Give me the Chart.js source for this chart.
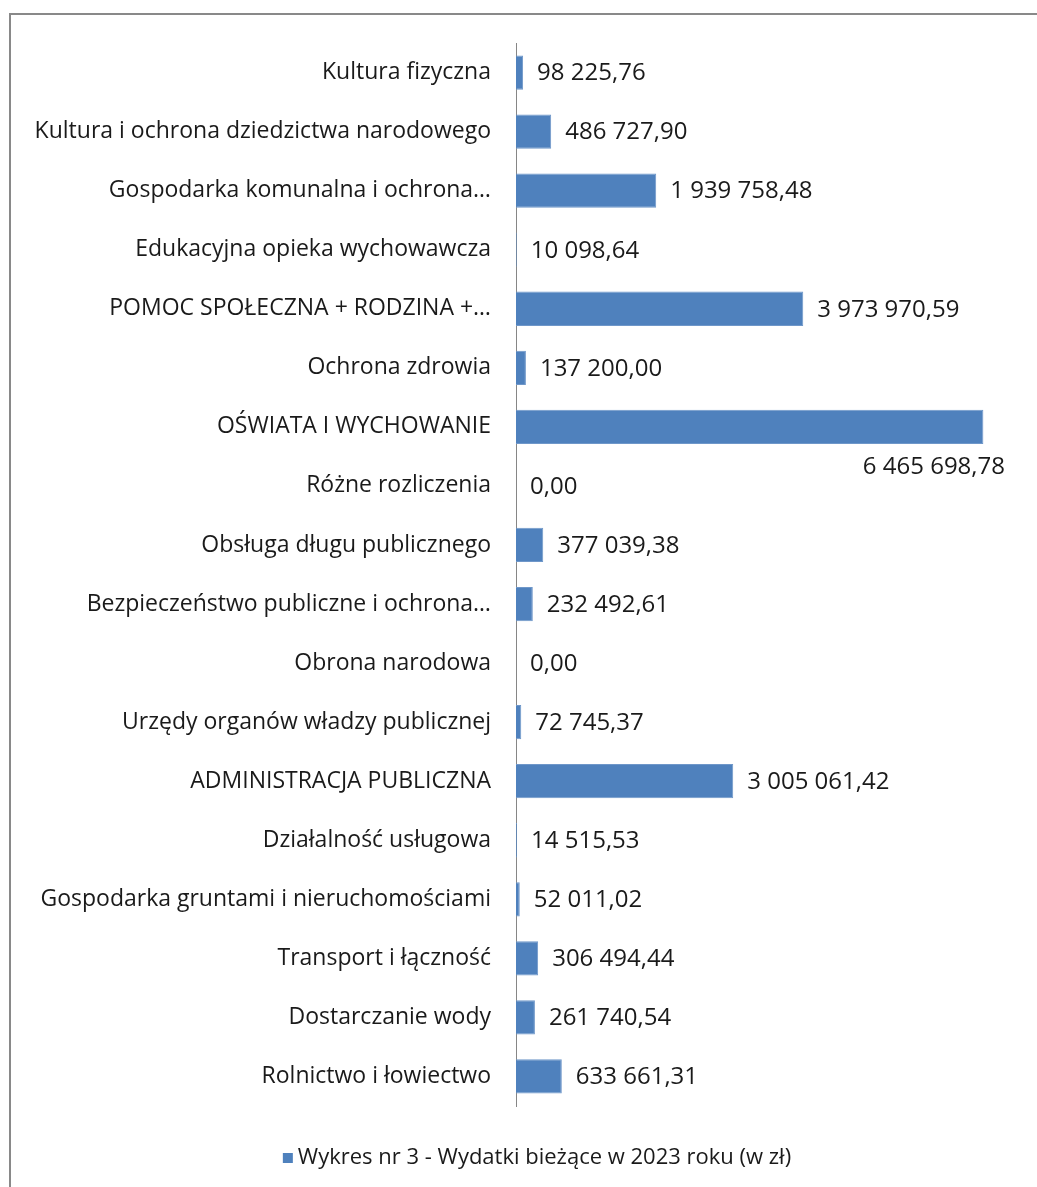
<!DOCTYPE html>
<html>
<head>
<meta charset="utf-8">
<script src="https://cdn.jsdelivr.net/npm/chart.js@4.4.0/dist/chart.umd.min.js"></script>
<style>
  html, body { margin: 0; padding: 0; background: #ffffff; }
  #wrap { position: relative; width: 1037px; height: 1187px; }
  canvas { display: block; }
</style>
</head>
<body>
<div id="wrap"><canvas id="c" width="1037" height="1187"></canvas></div>
<script>
const categories = [
  "Kultura fizyczna",
  "Kultura i ochrona dziedzictwa narodowego",
  "Gospodarka komunalna i ochrona…",
  "Edukacyjna opieka wychowawcza",
  "POMOC SPOŁECZNA + RODZINA +…",
  "Ochrona zdrowia",
  "OŚWIATA I WYCHOWANIE",
  "Różne rozliczenia",
  "Obsługa długu publicznego",
  "Bezpieczeństwo publiczne i ochrona…",
  "Obrona narodowa",
  "Urzędy organów władzy publicznej",
  "ADMINISTRACJA PUBLICZNA",
  "Działalność usługowa",
  "Gospodarka gruntami i nieruchomościami",
  "Transport i łączność",
  "Dostarczanie wody",
  "Rolnictwo i łowiectwo"
];
const values = [
  98225.76,
  486727.90,
  1939758.48,
  10098.64,
  3973970.59,
  137200.00,
  6465698.78,
  0.00,
  377039.38,
  232492.61,
  0.00,
  72745.37,
  3005061.42,
  14515.53,
  52011.02,
  306494.44,
  261740.54,
  633661.31
];
const seriesLabel = "Wykres nr 3 - Wydatki bieżące w 2023 roku (w zł)";
const axisMin = 0;
const axisMax = 7000000;

const FONT = "'Open Sans', Lato, sans-serif";
const BAR_COLOR = "#4F81BD";
const TEXT_COLOR = "#1a1a1a";

function fmtPL(v) {
  const parts = v.toFixed(2).split(".");
  const intPart = parts[0].replace(/\B(?=(\d{3})+(?!\d))/g, " ");
  return intPart + "," + parts[1];
}

const framePlugin = {
  id: "frame",
  beforeDraw(chart) {
    const ctx = chart.ctx;
    ctx.save();
    ctx.fillStyle = "#ffffff";
    ctx.fillRect(0, 0, chart.width, chart.height);
    ctx.strokeStyle = "#898989";
    ctx.lineWidth = 2;
    ctx.beginPath();
    ctx.moveTo(10, chart.height + 5);
    ctx.lineTo(10, 14);
    ctx.lineTo(chart.width + 5, 14);
    ctx.stroke();
    ctx.restore();
  }
};

const valueLabels = {
  id: "valueLabels",
  afterDatasetsDraw(chart) {
    const ctx = chart.ctx;
    const meta = chart.getDatasetMeta(0);
    ctx.save();
    ctx.font = "24px " + FONT;
    ctx.fillStyle = TEXT_COLOR;
    ctx.textBaseline = "middle";
    meta.data.forEach((bar, i) => {
      const txt = fmtPL(values[i]);
      const w = ctx.measureText(txt).width;
      let x = bar.x + 14;
      if (x + w > chart.width - 30) {
        ctx.textAlign = "right";
        ctx.fillText(txt, chart.width - 32, bar.y + 40);
      } else {
        ctx.textAlign = "left";
        ctx.fillText(txt, x, bar.y + 1);
      }
    });
    ctx.restore();
  }
};

const customLegend = {
  id: "customLegend",
  afterDraw(chart) {
    const ctx = chart.ctx;
    ctx.save();
    ctx.font = "22px " + FONT;
    const label = chart.data.datasets[0].label;
    const tw = ctx.measureText(label).width;
    const box = 10, gap = 5;
    const total = box + gap + tw;
    const cx = 537;
    const y = 1158;
    const x0 = cx - total / 2;
    ctx.fillStyle = chart.data.datasets[0].backgroundColor;
    ctx.fillRect(x0, y - box / 2, box, box);
    ctx.fillStyle = TEXT_COLOR;
    ctx.textAlign = "left";
    ctx.textBaseline = "middle";
    ctx.fillText(label, x0 + box + gap, y);
    ctx.restore();
  }
};

new Chart(document.getElementById("c"), {
  type: "bar",
  data: {
    labels: categories,
    datasets: [{
      label: seriesLabel,
      data: values,
      backgroundColor: BAR_COLOR,
      borderColor: "#6f97c9",
      borderWidth: 1,
      categoryPercentage: 1.0,
      barPercentage: 0.58
    }]
  },
  options: {
    indexAxis: "y",
    responsive: false,
    animation: false,
    devicePixelRatio: 1,
    layout: { padding: { top: 43, bottom: 81, left: 0, right: 15 } },
    plugins: {
      legend: { display: false },
      tooltip: { enabled: false }
    },
    scales: {
      x: {
        display: false,
        min: axisMin,
        max: axisMax
      },
      y: {
        grid: { display: false, drawTicks: false },
        border: { display: true, color: "#868686", width: 1 },
        ticks: {
          color: TEXT_COLOR,
          font: { family: FONT, size: 23 },
          padding: 25,
          autoSkip: false
        },
        afterFit(scale) { scale.width = 516; }
      }
    }
  },
  plugins: [framePlugin, valueLabels, customLegend]
});
</script>
</body>
</html>
